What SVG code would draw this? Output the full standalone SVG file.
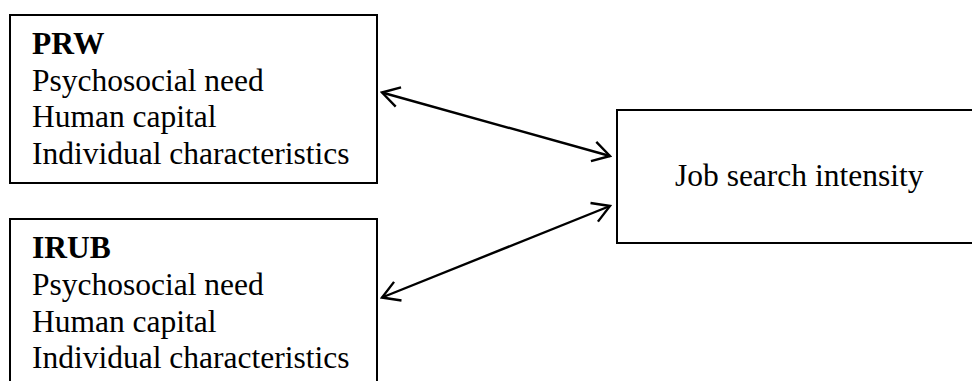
<svg xmlns="http://www.w3.org/2000/svg" width="972" height="381" viewBox="0 0 972 381">
<style>
.box{fill:#fff;stroke:#000;stroke-width:2}
.t{font-family:"Liberation Serif","Times New Roman",serif;font-size:31.5px;fill:#000}
.b{font-weight:bold}
.c{fill:none;stroke:#000;stroke-width:2.4}
</style>
<defs>
<marker id="ah" viewBox="-22 -12 24 24" refX="0" refY="0" markerWidth="24" markerHeight="24" markerUnits="userSpaceOnUse" orient="auto-start-reverse">
<path d="M-17,-10 L0,0 L-17,10" fill="none" stroke="#000" stroke-width="2.4" stroke-linejoin="miter"/>
</marker>
</defs>
<g id="prw">
<rect class="box" x="10" y="15" width="367" height="168"/>
<text class="t b" x="32" y="54">PRW</text>
<text class="t" x="32" y="91">Psychosocial need</text>
<text class="t" x="32" y="127">Human capital</text>
<text class="t" x="32" y="164">Individual characteristics</text>
</g>
<g id="irub">
<rect class="box" x="10" y="219" width="367" height="200"/>
<text class="t b" x="32" y="258">IRUB</text>
<text class="t" x="32" y="295">Psychosocial need</text>
<text class="t" x="32" y="332">Human capital</text>
<text class="t" x="32" y="368">Individual characteristics</text>
</g>
<g id="jsi">
<rect class="box" x="617" y="110" width="400" height="133"/>
<text class="t" x="675" y="186">Job search intensity</text>
</g>
<g id="connectors">
<line class="c" x1="382" y1="92.5" x2="610" y2="156" marker-start="url(#ah)" marker-end="url(#ah)"/>
<line class="c" x1="382" y1="297.5" x2="610" y2="206" marker-start="url(#ah)" marker-end="url(#ah)"/>
</g>
</svg>
